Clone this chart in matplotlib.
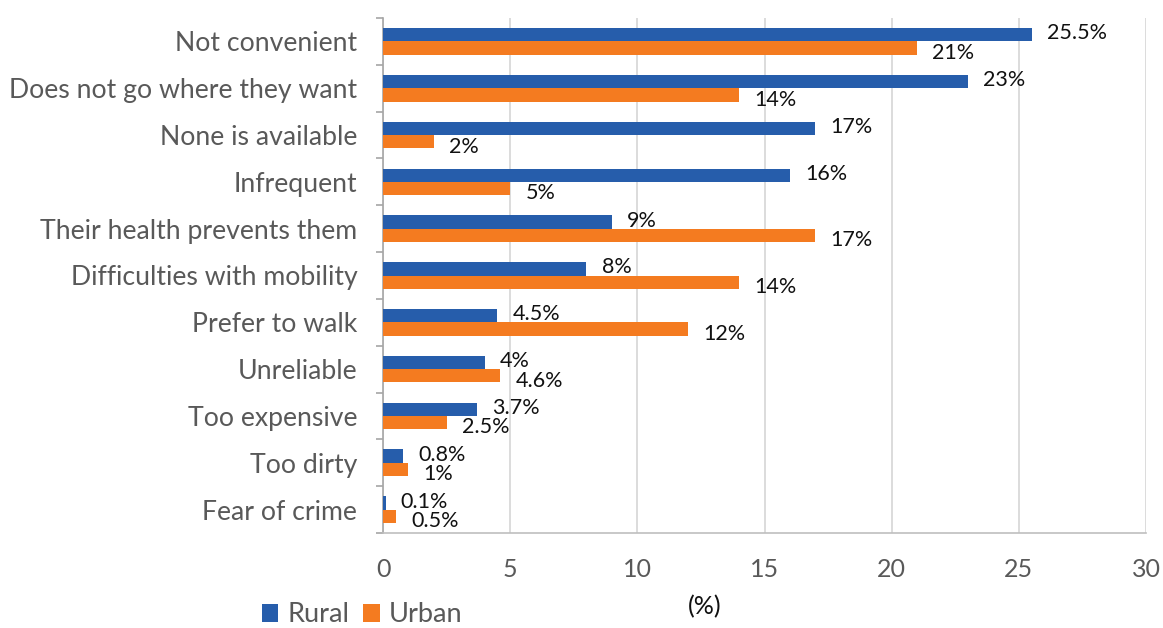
import matplotlib
matplotlib.use("Agg")
import matplotlib.pyplot as plt
import numpy as np

plt.rcParams['font.family'] = ['Lato', 'DejaVu Sans']

categories = ["Not convenient", "Does not go where they want", "None is available",
              "Infrequent", "Their health prevents them", "Difficulties with mobility",
              "Prefer to walk", "Unreliable", "Too expensive", "Too dirty", "Fear of crime"]
rural = [25.5, 23, 17, 16, 9, 8, 4.5, 4, 3.7, 0.8, 0.1]
urban = [21, 14, 2, 5, 17, 14, 12, 4.6, 2.5, 1, 0.5]
rural_labels = ["25.5%", "23%", "17%", "16%", "9%", "8%", "4.5%", "4%", "3.7%", "0.8%", "0.1%"]
urban_labels = ["21%", "14%", "2%", "5%", "17%", "14%", "12%", "4.6%", "2.5%", "1%", "0.5%"]
series_names = ["Rural", "Urban"]
xticks = [0, 5, 10, 15, 20, 25, 30]

BLUE = "#265DAB"
ORANGE = "#F47B20"
GRAY_TXT = "#595959"

fig = plt.figure(figsize=(11.63, 6.28), dpi=100)
ax = fig.add_axes([383/1163, 1-533/628, (1146-383)/1163, (533-18)/628])

n = len(categories)
y = np.arange(n)
h = 0.285
br = ax.barh(y - h/2, rural, height=h, color=BLUE, label=series_names[0], zorder=3)
bu = ax.barh(y + h/2, urban, height=h, color=ORANGE, label=series_names[1], zorder=3)

ax.set_ylim(n - 0.5, -0.5)
ax.set_xlim(0, 30)
ax.set_xticks(xticks)
ax.set_xticklabels([str(t) for t in xticks], fontsize=18, color=GRAY_TXT)
ax.tick_params(axis='x', length=0, pad=18)

ax.set_yticks(y)
ax.set_yticklabels(categories, fontsize=19.2, color=GRAY_TXT)
ax.tick_params(axis='y', which='major', length=0, pad=18.5)
ax.set_yticks(np.arange(-0.5, n, 1.0), minor=True)
ax.tick_params(axis='y', which='minor', length=5, color="#A6A6A6", width=1.2)

ax.grid(axis='x', color="#D9D9D9", linewidth=1.3, zorder=0)
for s in ['top', 'right']:
    ax.spines[s].set_visible(False)
ax.spines['left'].set_color("#A6A6A6")
ax.spines['left'].set_linewidth(1.2)
ax.spines['bottom'].set_color("#BFBFBF")
ax.spines['bottom'].set_linewidth(1.2)

for i in range(n):
    ax.annotate(rural_labels[i], (rural[i], y[i] - h/2), xytext=(11, 1), textcoords='offset points',
                ha='left', va='center', fontsize=15.5, color="#111111")
    ax.annotate(urban_labels[i], (urban[i], y[i] + h/2), xytext=(11, -3.5), textcoords='offset points',
                ha='left', va='center', fontsize=15.5, color="#111111")

fig.text(705/1163, 1-607/628, "(%)", ha='center', va='center', fontsize=18, color="#111111")

leg = fig.legend(handles=[br, bu], labels=series_names, loc='center left',
                 bbox_to_anchor=(262/1163, 1-615/628), ncol=2, frameon=False,
                 fontsize=19.5, handlelength=0.6, handleheight=0.6, handletextpad=0.35,
                 columnspacing=0.5, borderaxespad=0, borderpad=0)
for t in leg.get_texts():
    t.set_color(GRAY_TXT)

fig.savefig("out.png", dpi=100)
